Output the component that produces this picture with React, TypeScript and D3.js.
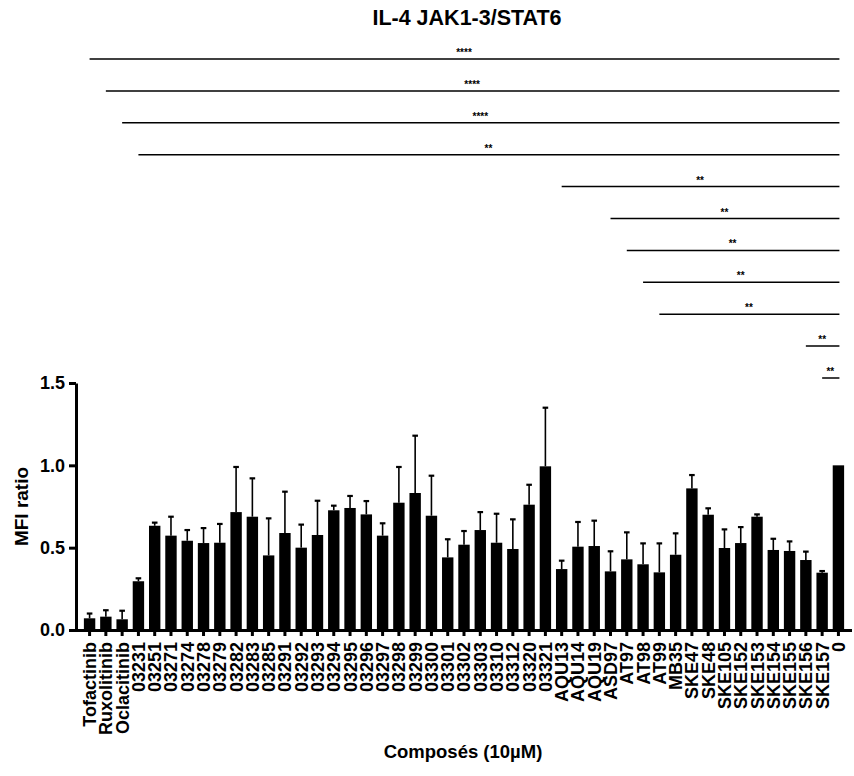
import React, { useEffect, useRef } from "react";
import * as d3 from "d3";

// compound names along the x axis
const categories = [
  "Tofactinib", "Ruxolitinib", "Oclacitinib", "03231", "03251", "03271", "03274", "03278",
  "03279", "03282", "03283", "03285", "03291", "03292", "03293", "03294", "03295", "03296",
  "03297", "03298", "03299", "03300", "03301", "03302", "03303", "03310", "03312", "03320",
  "03321", "AQU13", "AQU14", "AQU19", "ASD97", "AT97", "AT98", "AT99", "MB35", "SKE47",
  "SKE48", "SKE105", "SKE152", "SKE153", "SKE154", "SKE155", "SKE156", "SKE157", "0",
];

// mean MFI ratio
const means = [
  0.071, 0.081, 0.065, 0.296, 0.633, 0.573, 0.542, 0.528,
  0.530, 0.716, 0.688, 0.453, 0.589, 0.500, 0.577, 0.727, 0.741, 0.702,
  0.573, 0.773, 0.832, 0.694, 0.441, 0.518, 0.607, 0.530, 0.492, 0.761,
  0.994, 0.370, 0.506, 0.510, 0.356, 0.429, 0.399, 0.350, 0.457, 0.860,
  0.700, 0.498, 0.528, 0.688, 0.486, 0.480, 0.425, 0.348, 1.0,
];

// top of the error bar (mean + SD)
const upper = [
  0.10, 0.12, 0.117, 0.314, 0.652, 0.688, 0.607, 0.619,
  0.644, 0.99, 0.921, 0.678, 0.840, 0.640, 0.785, 0.755, 0.814, 0.783,
  0.648, 0.99, 1.18, 0.937, 0.551, 0.601, 0.716, 0.706, 0.672, 0.882,
  1.35, 0.421, 0.656, 0.664, 0.478, 0.593, 0.526, 0.526, 0.587, 0.941,
  0.739, 0.611, 0.625, 0.702, 0.554, 0.538, 0.476, 0.358, 1.0,
];

const yTicks = [0, 0.5, 1.0, 1.5];

// significance brackets: from category to category, label
const sigFrom = ["Tofactinib", "Ruxolitinib", "Oclacitinib", "03231", "AQU13", "ASD97", "AT97", "AT98", "AT99", "SKE156", "SKE157"];
const sigLabels = ["****", "****", "****", "**", "**", "**", "**", "**", "**", "**", "**"];
const sigTo = "0";

const W = 854, H = 776;
const FONT = "'Liberation Sans', Arial, sans-serif";

function App() {
  const ref = useRef<SVGSVGElement>(null);

  useEffect(() => {
    const svg = d3.select(ref.current);
    svg.selectAll("*").remove();

    const x = d3.scaleBand().domain(categories).range([79, 849]).padding(0.3);
    const y = d3.scaleLinear().domain([0, 1.5]).range([630, 383]);
    const cx = (c: string) => (x(c) as number) + x.bandwidth() / 2;

    // title
    svg.append("text")
      .attr("x", 467).attr("y", 25)
      .attr("text-anchor", "middle")
      .attr("font-family", FONT).attr("font-weight", "bold").attr("font-size", 21.5)
      .text("IL-4 JAK1-3/STAT6");

    // bars
    svg.append("g").selectAll("rect")
      .data(categories)
      .join("rect")
      .attr("x", (d) => x(d) as number)
      .attr("width", x.bandwidth())
      .attr("y", (d, i) => y(means[i]))
      .attr("height", (d, i) => y(0) - y(means[i]))
      .attr("fill", "black");

    // error bars (upper only)
    const err = svg.append("g").attr("stroke", "black").attr("stroke-width", 1.6);
    categories.forEach((c, i) => {
      if (upper[i] <= means[i]) return;
      err.append("line")
        .attr("x1", cx(c)).attr("x2", cx(c))
        .attr("y1", y(means[i])).attr("y2", y(upper[i]));
      err.append("line")
        .attr("x1", cx(c) - 2.8).attr("x2", cx(c) + 2.8)
        .attr("y1", y(upper[i])).attr("y2", y(upper[i]))
        .attr("stroke-width", 2.2);
    });

    // y axis
    const yAxis = svg.append("g")
      .attr("transform", "translate(76,0)")
      .call(d3.axisLeft(y).tickValues(yTicks).tickFormat(d3.format(".1f")).tickSize(7).tickSizeOuter(0));
    yAxis.select(".domain").attr("stroke-width", 3);
    yAxis.selectAll(".tick line").attr("stroke-width", 3);
    yAxis.selectAll(".tick text")
      .attr("font-family", FONT).attr("font-weight", "bold").attr("font-size", 18)
      .attr("fill", "black").attr("dx", "-1");

    // x axis
    const xAxis = svg.append("g")
      .attr("transform", "translate(0,630)")
      .call(d3.axisBottom(x).tickSize(6).tickSizeOuter(0));
    xAxis.select(".domain").attr("stroke-width", 3).attr("d", "M74.5,0.5H852");
    xAxis.selectAll(".tick line").attr("stroke-width", 3);
    xAxis.selectAll(".tick text")
      .attr("font-family", FONT).attr("font-weight", "bold").attr("font-size", 18)
      .attr("fill", "black")
      .attr("transform", "rotate(-90)")
      .attr("text-anchor", "end")
      .attr("x", -12).attr("y", 0).attr("dy", "0.36em");

    // axis titles
    svg.append("text")
      .attr("transform", `translate(28,${(y(0) + y(1.5)) / 2}) rotate(-90)`)
      .attr("text-anchor", "middle")
      .attr("font-family", FONT).attr("font-weight", "bold").attr("font-size", 19)
      .text("MFI ratio");

    svg.append("text")
      .attr("x", 463).attr("y", 758)
      .attr("text-anchor", "middle")
      .attr("font-family", FONT).attr("font-weight", "bold").attr("font-size", 18.5)
      .text("Composés (10µM)");

    // significance lines
    const sig = svg.append("g");
    sigFrom.forEach((c, i) => {
      const ly = 59 + i * 31.9;
      const x1 = cx(c), x2 = cx(sigTo);
      sig.append("line")
        .attr("x1", x1).attr("x2", x2 + 1)
        .attr("y1", ly).attr("y2", ly)
        .attr("stroke", "black").attr("stroke-width", 1.5);
      sig.append("text")
        .attr("x", (x1 + x2) / 2).attr("y", ly - 3)
        .attr("text-anchor", "middle")
        .attr("font-family", FONT).attr("font-weight", "bold").attr("font-size", 10)
        .text(sigLabels[i]);
    });
  }, []);

  return (
    <svg ref={ref} width={W} height={H}
      style={{ position: "absolute", left: 0, top: 0, background: "white" }} />
  );
}

export default App;
